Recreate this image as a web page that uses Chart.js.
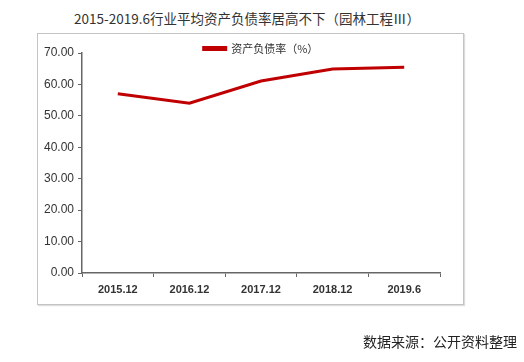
<!DOCTYPE html>
<html>
<head>
<meta charset="utf-8">
<script src="https://cdn.jsdelivr.net/npm/chart.js"></script>
<style>
body { margin:0; background:#fff; }
#wrap { position:relative; width:524px; height:362px; }
#title { position:absolute; left:0; top:8px; width:494px; text-align:center; font:13.5px "Noto Sans CJK SC"; color:#333; }
#box { position:absolute; left:37px; top:33px; width:425px; height:270px; border:1px solid #c4c4c4; box-shadow:1px 1px 1px #ddd; }
#src { position:absolute; right:7px; top:331px; font:14px "Noto Sans CJK SC"; color:#222; }
canvas { position:absolute; left:0; top:0; }
</style>
</head>
<body>
<div id="wrap">
<div id="title">2015-2019.6行业平均资产负债率居高不下（园林工程Ⅲ）</div>
<div id="box"></div>
<canvas id="myChart" width="524" height="362"></canvas>
<div id="src">数据来源：公开资料整理</div>
</div>
<script>
var labels = ["2015.12","2016.12","2017.12","2018.12","2019.6"]
var values = [57.0, 54.0, 61.1, 64.9, 65.5]
var seriesName = "资产负债率（%）"

// push the legend down a bit so it sits just above the 70 line
var legendShift = {
    id: "legendShift",
    afterLayout: function(chart){
        chart.legend.top += 11
        chart.legend.bottom += 11
    }
}

new Chart("myChart", {
    type: "line",
    data: {
        labels: labels,
        datasets: [{
            label: seriesName,
            data: values,
            borderColor: "#c00000",
            backgroundColor: "#c00000",
            borderWidth: 3,
            pointRadius: 0,
            tension: 0
        }]
    },
    options: {
        responsive: false,
        animation: false,
        layout: { padding: { left: 37, right: 84, top: 32, bottom: 0 } },
        plugins: {
            legend: {
                fullSize: false,
                labels: { boxWidth: 22, boxHeight: 2, padding: 0, color: "#333", font: { family: "Noto Sans CJK SC", size: 11 } }
            },
            tooltip: { enabled: false }
        },
        scales: {
            x: {
                offset: true,
                grid: { drawOnChartArea: false, offset: true, tickLength: 4, color: "#666" },
                border: { color: "#666", width: 1.5 },
                ticks: { color: "#333", padding: 6, font: { family: "Liberation Sans", size: 11, weight: "bold" } },
                afterFit: function(s){ s.height = 362 - 273 }
            },
            y: {
                min: 0, max: 70,
                grid: { drawOnChartArea: false, tickLength: 4, color: "#666" },
                border: { color: "#666", width: 1.5 },
                ticks: { stepSize: 10, color: "#333", padding: 4,
                    font: { family: "Liberation Sans", size: 12 },
                    callback: function(v){ return v.toFixed(2) } },
                afterFit: function(s){ s.width = 45 }
            }
        }
    },
    plugins: [legendShift]
})
</script>
</body>
</html>
